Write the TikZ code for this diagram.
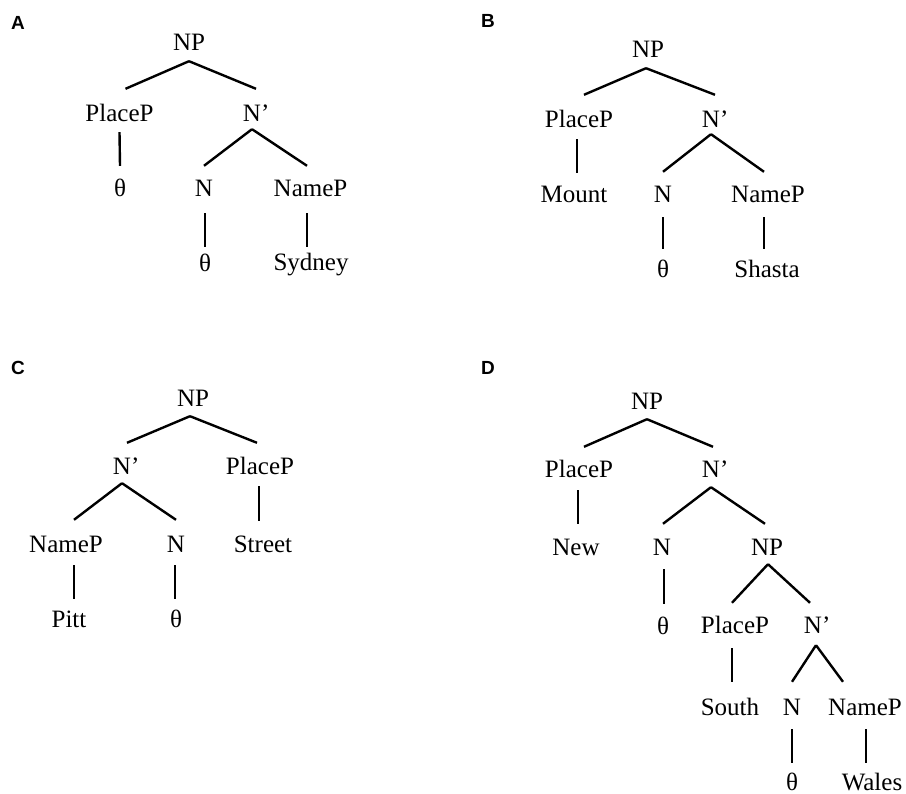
\documentclass[tikz,border=0pt]{standalone}
\usepackage{fontspec}
\setmainfont{Liberation Serif}
\newfontfamily\panelfont{Liberation Sans}
\begin{document}
\begin{tikzpicture}[x=1pt,y=-1pt,
  lbl/.style={font=\fontsize{25}{30}\selectfont, anchor=base, inner sep=0pt,
              text height=31pt, text depth=10pt},
  panel/.style={font=\panelfont\bfseries\fontsize{19}{22}\selectfont, anchor=base, inner sep=0pt},
  branch/.style={line width=2.4pt}]
\useasboundingbox (0,0) rectangle (906,794);

% ---------- A ----------
\node[panel] (la) at (18,30) {A};
\node[lbl] (a-np) at (189,51) {NP};
\node[lbl] (a-pp) at (119.5,122) {PlaceP};
\node[lbl] (a-nb) at (252,122) {N\rlap{’}};
\node[lbl] (a-t1) at (120,197) {θ};
\node[lbl] (a-n) at (204,197) {N};
\node[lbl] (a-nm) at (310.5,197) {NameP};
\node[lbl] (a-t2) at (205,272) {θ};
\node[lbl] (a-sy) at (311,271) {Sydney};
\draw[branch] (a-np.south) -- ([shift={(6,-2)}]a-pp.north);
\draw[branch] (a-np.south) -- ([shift={(4,-2)}]a-nb.north);
\draw[branch] (a-pp.south) -- (a-t1.north);
\draw[branch] ([shift={(0,-3)}]a-nb.south) -- (a-n.north);
\draw[branch] ([shift={(0,-3)}]a-nb.south) -- ([shift={(-3.5,0)}]a-nm.north);
\draw[branch] ([shift={(1,6)}]a-n.south) -- ([shift={(0,6)}]a-t2.north);
\draw[branch] ([shift={(-3.5,6)}]a-nm.south) -- ([shift={(-4,7)}]a-sy.north);

% ---------- B ----------
\node[panel] (lb) at (488,28) {B};
\node[lbl] (b-np) at (648,58) {NP};
\node[lbl] (b-pp) at (579,128) {PlaceP};
\node[lbl] (b-nb) at (711,128) {N\rlap{’}};
\node[lbl] (b-mo) at (574,203) {Mount};
\node[lbl] (b-n) at (663,203) {N};
\node[lbl] (b-nm) at (768,203) {NameP};
\node[lbl] (b-t) at (663,278) {θ};
\node[lbl] (b-sh) at (767,278) {Shasta};
\draw[branch] ([shift={(-2,0)}]b-np.south) -- ([shift={(5,-2)}]b-pp.north);
\draw[branch] ([shift={(-2,0)}]b-np.south) -- ([shift={(4,-2)}]b-nb.north);
\draw[branch] ([shift={(-2,1)}]b-pp.south) -- ([shift={(3,1)}]b-mo.north);
\draw[branch] ([shift={(0,-4)}]b-nb.south) -- (b-n.north);
\draw[branch] ([shift={(0,-4)}]b-nb.south) -- ([shift={(-4,0)}]b-nm.north);
\draw[branch] ([shift={(0,4)}]b-n.south) -- ([shift={(0,2)}]b-t.north);
\draw[branch] ([shift={(-4,4)}]b-nm.south) -- ([shift={(-3,2)}]b-sh.north);

% ---------- C ----------
\node[panel] (lc) at (18,375) {C};
\node[lbl] (c-np) at (193,407) {NP};
\node[lbl] (c-nb) at (122,475) {N\rlap{’}};
\node[lbl] (c-pp) at (260,475) {PlaceP};
\node[lbl] (c-nm) at (66,552) {NameP};
\node[lbl] (c-n) at (176,552) {N};
\node[lbl] (c-st) at (263,552) {Street};
\node[lbl] (c-pi) at (69,627) {Pitt};
\node[lbl] (c-t) at (176,627) {θ};
\draw[branch] ([shift={(-3,-1)}]c-np.south) -- ([shift={(5,-1)}]c-nb.north);
\draw[branch] ([shift={(-3,-1)}]c-np.south) -- ([shift={(-3,-1)}]c-pp.north);
\draw[branch] ([shift={(0,-2)}]c-nb.south) -- ([shift={(8,-1)}]c-nm.north);
\draw[branch] ([shift={(0,-2)}]c-nb.south) -- ([shift={(0,-1)}]c-n.north);
\draw[branch] ([shift={(-1,1)}]c-pp.south) -- ([shift={(-4,0)}]c-st.north);
\draw[branch] ([shift={(8,3)}]c-nm.south) -- ([shift={(5,3)}]c-pi.north);
\draw[branch] ([shift={(-1,3)}]c-n.south) -- ([shift={(-1,3)}]c-t.north);

% ---------- D ----------
\node[panel] (ld) at (488,375) {D};
\node[lbl] (d-np) at (647,410) {NP};
\node[lbl] (d-pp) at (579,478) {PlaceP};
\node[lbl] (d-nb) at (711,478) {N\rlap{’}};
\node[lbl] (d-ne) at (576,555) {New};
\node[lbl] (d-n) at (662,555) {N};
\node[lbl] (d-np2) at (767,555) {NP};
\node[lbl] (d-t1) at (663,634) {θ};
\node[lbl] (d-pp2) at (735,633) {PlaceP};
\node[lbl] (d-nb2) at (813,633) {N\rlap{’}};
\node[lbl] (d-so) at (730,715) {South};
\node[lbl] (d-n3) at (792,715) {N};
\node[lbl] (d-nm) at (865,715) {NameP};
\node[lbl] (d-t2) at (792,790) {θ};
\node[lbl] (d-wa) at (872,790) {Wales};
\draw[branch] ([shift={(0,-1)}]d-np.south) -- ([shift={(5,0)}]d-pp.north);
\draw[branch] ([shift={(0,-1)}]d-np.south) -- ([shift={(2,0)}]d-nb.north);
\draw[branch] ([shift={(-1,2)}]d-pp.south) -- ([shift={(2,0)}]d-ne.north);
\draw[branch] ([shift={(0,-1)}]d-nb.south) -- ([shift={(1,0)}]d-n.north);
\draw[branch] ([shift={(0,-1)}]d-nb.south) -- ([shift={(-2,0)}]d-np2.north);
\draw[branch] ([shift={(2,4)}]d-n.south) -- ([shift={(1,1)}]d-t1.north);
\draw[branch] ([shift={(1,-1)}]d-np2.south) -- ([shift={(-3,1)}]d-pp2.north);
\draw[branch] ([shift={(1,-1)}]d-np2.south) -- ([shift={(-3,1)}]d-nb2.north);
\draw[branch] ([shift={(-3,5)}]d-pp2.south) -- ([shift={(2,-2)}]d-so.north);
\draw[branch] ([shift={(3,2)}]d-nb2.south) -- ([shift={(0,-2)}]d-n3.north);
\draw[branch] ([shift={(3,2)}]d-nb2.south) -- ([shift={(-22,-2)}]d-nm.north);
\draw[branch] ([shift={(0,4)}]d-n3.south) -- ([shift={(0,4)}]d-t2.north);
\draw[branch] ([shift={(1,4)}]d-nm.south) -- ([shift={(-6,4)}]d-wa.north);
\end{tikzpicture}
\end{document}
